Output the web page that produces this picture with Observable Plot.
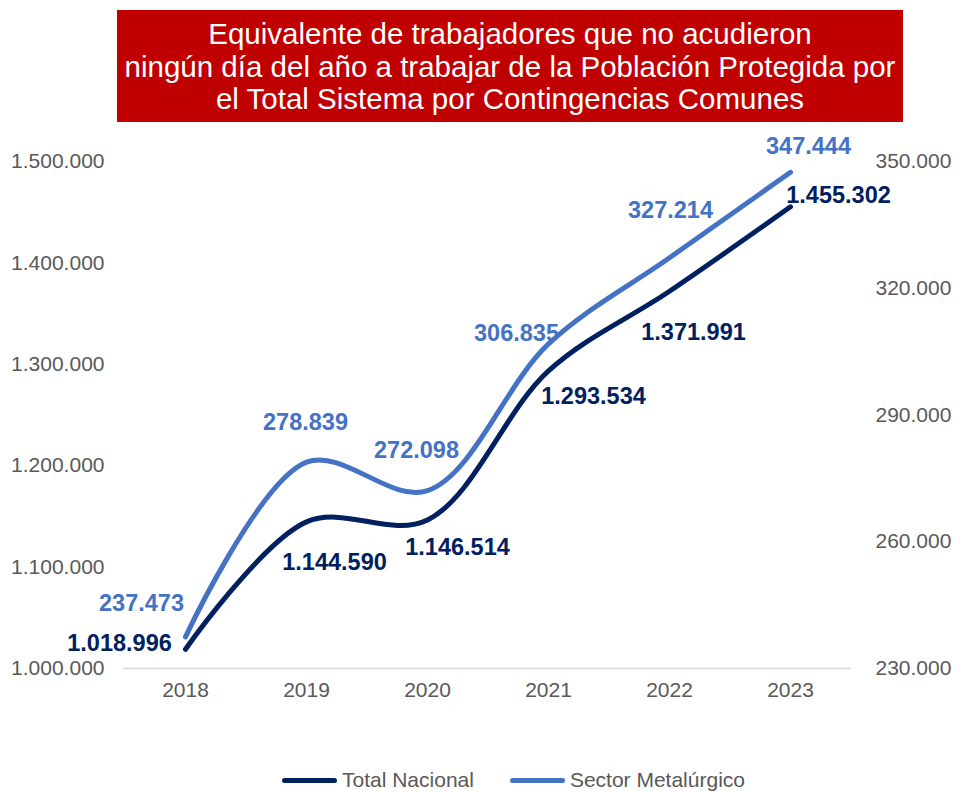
<!DOCTYPE html>
<html><head><meta charset="utf-8">
<script src="https://cdn.jsdelivr.net/npm/d3@7"></script>
<script src="https://cdn.jsdelivr.net/npm/@observablehq/plot@0.6"></script>
<style>
body{margin:0;background:#fff;font-family:"Liberation Sans",Arial,sans-serif;overflow:hidden;}
#title{margin:10px 0 0 117px;width:786px;height:112px;box-sizing:border-box;padding-top:8px;background:#c00000;color:#fff;text-align:center;font-size:29.5px;line-height:32.5px;white-space:nowrap;}
#legend{margin-top:46px;padding-left:282px;display:flex;align-items:center;font-size:21px;line-height:24px;color:#595959;}
.sw{display:inline-block;width:55px;height:5px;border-radius:3px;margin-right:5px;}
.item{display:flex;align-items:center;margin-right:36px;}
</style></head><body>
<div id="title">Equivalente de trabajadores que no acudieron<br>ningún día del año a trabajar de la Población Protegida por<br>el Total Sistema por Contingencias Comunes</div>
<div id="chart"></div>
<div id="legend"></div>
<script>
const years = ["2018","2019","2020","2021","2022","2023"];
const totalNacional = [1018996,1144590,1146514,1293534,1371991,1455302];
const sectorMetalurgico = [237473,278839,272098,306835,327214,347444];
const leftTicks = [1000000,1100000,1200000,1300000,1400000,1500000];
const rightTicks = [230000,260000,290000,320000,350000];
const seriesNames = ["Total Nacional","Sector Metalúrgico"];
const seriesColors = ["#002060","#4472C4"];
// label offsets (px) relative to each point
const totalLabelOffsets = [[-66,-6],[28,41],[30,28],[45,26],[24,41],[48,-11]];
const metalLabelOffsets = [[-44,-33],[-1,-40],[-11,-40],[-32,-10],[1,-47],[18,-26]];

const L0 = 1000000, L1 = 1500000, R0 = 230000, R1 = 350000;
const toLeft = v => L0 + (v - R0) * (L1 - L0) / (R1 - R0);
const fromLeft = v => R0 + (v - L0) * (R1 - R0) / (L1 - L0);
const fmt = d3.formatLocale({thousands:".", decimal:",", grouping:[3], currency:["",""]}).format(",d");

const totalData = years.map((y,i)=>({year:y, value:totalNacional[i], raw:totalNacional[i]}));
const metalData = years.map((y,i)=>({year:y, value:toLeft(sectorMetalurgico[i]), raw:sectorMetalurgico[i]}));

const labelMarks = (data, offsets, color) => data.map((d,i)=>Plot.text([d], {
  x:"year", y:"value", text: d => fmt(d.raw), dx: offsets[i][0], dy: offsets[i][1],
  fill: color, fontSize: 23.5, fontWeight: "bold"
}));

const chart = Plot.plot({
  width: 953, height: 600,
  marginLeft: 123, marginRight: 102, marginTop: 39, marginBottom: 54,
  style: {fontFamily: '"Liberation Sans", Arial, sans-serif', color: "#595959", background: "#fff", overflow: "visible"},
  x: {type: "point", domain: years, padding: 0.5, axis: null, label: null},
  y: {domain: [L0, L1], axis: null, label: null},
  marks: [
    Plot.ruleY([L0], {stroke: "#d9d9d9", strokeWidth: 1.5}),
    Plot.axisX(years, {tickSize: 0, tickPadding: 14, fontSize: 21, fill: "#595959", label: null, tickFormat: d => d}),
    Plot.axisY(leftTicks, {anchor: "left", tickSize: 0, tickPadding: 19, fontSize: 21, fill: "#595959", label: null, tickFormat: d => fmt(d)}),
    Plot.axisY(rightTicks.map(toLeft), {anchor: "right", tickSize: 0, tickPadding: 24, fontSize: 21, fill: "#595959", label: null, tickFormat: d => fmt(Math.round(fromLeft(d)))}),
    Plot.line(metalData, {x: "year", y: "value", stroke: seriesColors[1], strokeWidth: 5, curve: "catmull-rom", strokeLinecap: "round"}),
    Plot.line(totalData, {x: "year", y: "value", stroke: seriesColors[0], strokeWidth: 5, curve: "catmull-rom", strokeLinecap: "round"}),
    ...labelMarks(metalData, metalLabelOffsets, seriesColors[1]),
    ...labelMarks(totalData, totalLabelOffsets, seriesColors[0])
  ]
});
document.getElementById("chart").appendChild(chart);

const legend = document.getElementById("legend");
seriesNames.forEach((n,i)=>{
  const it = document.createElement("div"); it.className = "item";
  const sw = document.createElement("span"); sw.className = "sw"; sw.style.background = seriesColors[i];
  const t = document.createElement("span"); t.textContent = n;
  it.appendChild(sw); it.appendChild(t); legend.appendChild(it);
});
</script>
</body></html>
